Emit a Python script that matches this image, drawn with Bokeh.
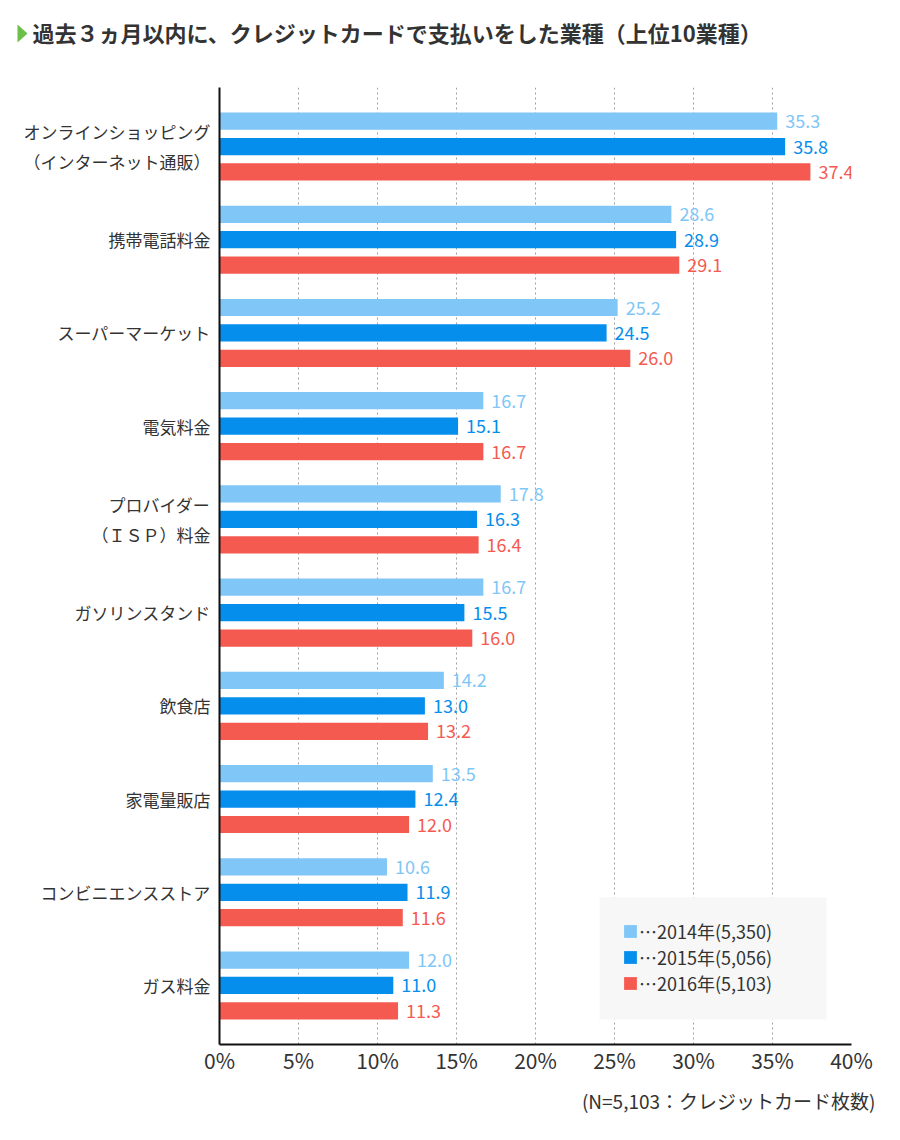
from bokeh.plotting import figure
from bokeh.layouts import column
from bokeh.models import (ColumnDataSource, FixedTicker, Legend, LegendItem,
                          BoxAnnotation, Title)
from bokeh.embed import file_html
from bokeh.resources import INLINE
from bokeh.core.properties import value

categories = [
    "オンラインショッピング\n（インターネット通販）",
    "携帯電話料金",
    "スーパーマーケット",
    "電気料金",
    "プロバイダー\n（ＩＳＰ）料金",
    "ガソリンスタンド",
    "飲食店",
    "家電量販店",
    "コンビニエンスストア",
    "ガス料金",
]
v2014 = [35.3, 28.6, 25.2, 16.7, 17.8, 16.7, 14.2, 13.5, 10.6, 12.0]
v2015 = [35.8, 28.9, 24.5, 15.1, 16.3, 15.5, 13.0, 12.4, 11.9, 11.0]
v2016 = [37.4, 29.1, 26.0, 16.7, 16.4, 16.0, 13.2, 12.0, 11.6, 11.3]
series_labels = ["…2014年(5,350)", "…2015年(5,056)", "…2016年(5,103)"]
x_ticks = [0, 5, 10, 15, 20, 25, 30, 35, 40]
x_tick_labels = ["0%", "5%", "10%", "15%", "20%", "25%", "30%", "35%", "40%"]
title_text = "過去３ヵ月以内に、クレジットカードで支払いをした業種（上位10業種）"
note_text = "(N=5,103：クレジットカード枚数)"

colors = ["#80C6F6", "#068EEC", "#F55A50"]
JP = "Noto Sans CJK JP"
TXT = "#333333"

# ---------- header (title) ----------
HEAD_H = 60
head = figure(width=900, height=HEAD_H, output_backend="svg", toolbar_location=None,
              x_range=(0, 900), y_range=(HEAD_H, 0), min_border=0)
head.frame_align = False
head.axis.visible = False
head.grid.visible = False
head.outline_line_color = None
head.patch(x=[17, 27, 17], y=[24, 33, 42], fill_color="#6CC04A", line_color=None)
head.text(x=[32], y=[31], text=[title_text], text_color=TXT, text_font=value(JP),
          text_font_size="22px", text_font_style="bold", text_baseline="middle",
          text_align="left")

# ---------- main chart ----------
p = figure(width=900, height=1140 - HEAD_H, output_backend="svg", toolbar_location=None,
           x_range=(0, 40), y_range=(-9.633, 0.633),
           min_border_left=219, min_border_right=49,
           min_border_top=87 - HEAD_H, min_border_bottom=96)
p.frame_align = False
p.outline_line_color = None

ys = [-i for i in range(len(categories))]
offsets = [0.273, 0.0, -0.273]
renderers = []
for vals, off, col in zip([v2014, v2015, v2016], offsets, colors):
    src = ColumnDataSource(dict(y=[y + off for y in ys], v=vals,
                                t=[f"{x:.1f}" for x in vals]))
    r = p.hbar(y="y", right="v", left=0, height=0.185, source=src,
               fill_color=col, line_color=None)
    p.text(x="v", y="y", text="t", source=src, x_offset=8,
           text_baseline="middle", text_align="left",
           text_font=value(JP), text_font_size="18px", text_color=col)
    renderers.append(r)

p.xaxis.ticker = FixedTicker(ticks=x_ticks)
p.xaxis.major_label_overrides = {t: l for t, l in zip(x_ticks, x_tick_labels)}
p.xaxis.major_label_text_font = JP
p.xaxis.major_label_text_font_size = "21px"
p.xaxis.major_label_text_color = TXT
p.xaxis.major_tick_line_color = None
p.xaxis.minor_tick_line_color = None
p.xaxis.major_tick_out = 0
p.xaxis.major_tick_in = 0
p.xaxis.minor_tick_out = 0
p.xaxis.axis_line_color = "#111111"
p.xaxis.axis_line_width = 2
p.xaxis.major_label_standoff = 0

p.yaxis.ticker = FixedTicker(ticks=ys)
p.yaxis.major_label_overrides = {y: c for y, c in zip(ys, categories)}
p.yaxis.major_label_text_font = JP
p.yaxis.major_label_text_font_size = "17px"
p.yaxis.major_label_text_color = TXT
p.yaxis.major_tick_line_color = None
p.yaxis.minor_tick_line_color = None
p.yaxis.major_tick_out = 0
p.yaxis.major_tick_in = 0
p.yaxis.minor_tick_out = 0
p.yaxis.axis_line_color = "#111111"
p.yaxis.axis_line_width = 2
p.yaxis.major_label_standoff = 9

p.ygrid.grid_line_color = None
p.xgrid.grid_line_color = "#a0a0a0"
p.xgrid.grid_line_dash = "2 3"
p.xgrid.grid_line_width = 1

# legend background box
pxu = (851 - 219) / 40.0
pyu = (1044 - 87) / (0.633 + 9.633)
def xd(px):
    return (px - 219) / pxu
def yd(py):
    return 0.633 - (py - 87) / pyu

p.add_layout(BoxAnnotation(left=xd(599), right=xd(826), top=yd(897), bottom=yd(1019),
                           fill_color="#F7F7F7", fill_alpha=1.0, line_color=None))

items = [LegendItem(label=l, renderers=[r]) for l, r in zip(series_labels, renderers)]
legend = Legend(items=items, location=(403, 48), margin=0, padding=0,
                spacing=0, label_height=24, glyph_height=16, glyph_width=16,
                label_standoff=1, label_text_font=JP, label_text_font_size="18px",
                label_text_color=TXT, background_fill_alpha=0.0,
                border_line_color=None)
p.add_layout(legend)

p.add_layout(Title(text=note_text, align="right", offset=-24, standoff=14,
                   text_font=JP, text_font_size="19px", text_font_style="normal",
                   text_color=TXT), "below")

layout = column(head, p, spacing=0)
open("out.html", "w").write(file_html(layout, INLINE))
